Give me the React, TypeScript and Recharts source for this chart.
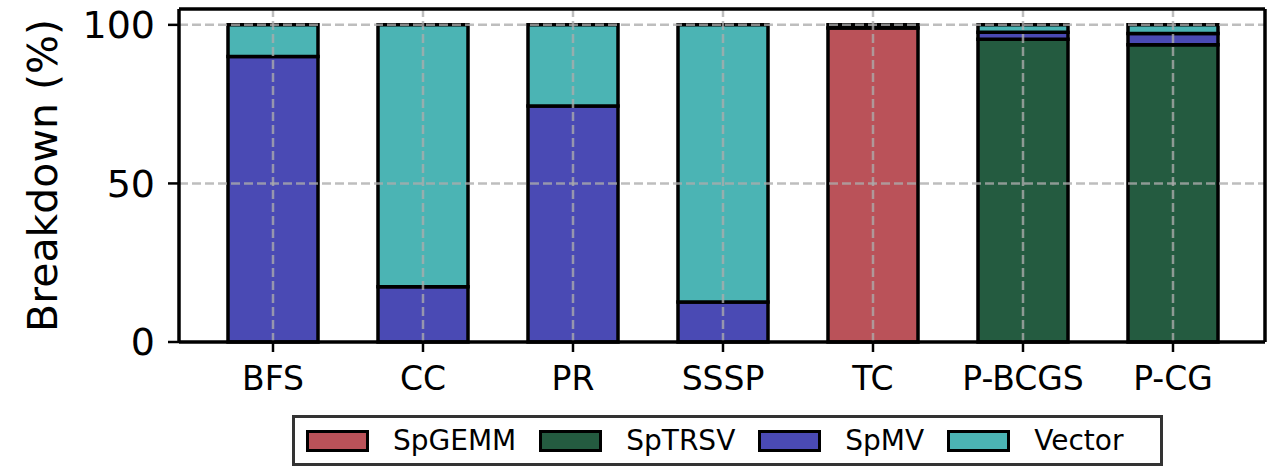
import * as React from "react";
import {
  BarChart,
  Bar,
  XAxis,
  YAxis,
  ReferenceLine,
} from "recharts";

const categories = ["BFS", "CC", "PR", "SSSP", "TC", "P-BCGS", "P-CG"];
const spgemm = [0, 0, 0, 0, 99, 0, 0];
const sptrsv = [0, 0, 0, 0, 0, 95.5, 93.7];
const spmv = [90, 17.4, 74.4, 12.6, 0, 2.2, 3.6];
const vector = [10, 82.6, 25.6, 87.4, 1, 2.3, 2.7];
const yTicks = [0, 50, 100];

const seriesNames = ["SpGEMM", "SpTRSV", "SpMV", "Vector"];
const seriesColors = ["#BA5259", "#245B40", "#4A4AB4", "#4BB4B4"];

const data = categories.map((name, i) => ({
  name,
  SpGEMM: spgemm[i],
  SpTRSV: sptrsv[i],
  SpMV: spmv[i],
  Vector: vector[i],
}));

const FONT = "'DejaVu Sans', sans-serif";
const gridLine = {
  stroke: "#acacac",
  strokeOpacity: 0.78,
  strokeDasharray: "9 4",
  strokeWidth: 2.5,
};

function Legend() {
  return (
    <div
      style={{
        position: "absolute",
        left: 292,
        top: 415,
        width: 871,
        height: 51,
        boxSizing: "border-box",
        border: "3px solid #333",
        background: "#fff",
        display: "flex",
        alignItems: "center",
        paddingLeft: 11,
        fontFamily: FONT,
        fontSize: 28,
        color: "#000",
      }}
    >
      {seriesNames.map((name, i) => (
        <div key={name} style={{ display: "flex", alignItems: "center", marginRight: 23 }}>
          <div
            style={{
              width: 63,
              height: 22,
              boxSizing: "border-box",
              border: "3px solid #000",
              background: seriesColors[i],
              marginRight: 24,
            }}
          />
          <span style={{ lineHeight: 1 }}>{name}</span>
        </div>
      ))}
    </div>
  );
}

export default function App() {
  return (
    <div style={{ position: "absolute", left: 0, top: 0, width: 1274, height: 469, background: "#fff" }}>
      <BarChart
        width={1274}
        height={469}
        data={data}
        margin={{ top: 8, right: 8, left: 0, bottom: 0 }}
        barCategoryGap={0}
      >
        <XAxis
          dataKey="name"
          height={127}
          padding={{ left: 19, right: 17 }}
          axisLine={{ stroke: "#000", strokeWidth: 3.5 }}
          tickLine={{ stroke: "#000", strokeWidth: 2.5 }}
          tickSize={10}
          tickMargin={15}
          tick={{ fill: "#000", fontSize: 33, fontFamily: FONT }}
          interval={0}
        />
        <XAxis
          xAxisId="top"
          dataKey="name"
          orientation="top"
          height={1}
          padding={{ left: 19, right: 17 }}
          tick={false}
          tickLine={false}
          axisLine={{ stroke: "#000", strokeWidth: 3.5 }}
        />
        <YAxis
          width={179}
          domain={[0, 105]}
          ticks={yTicks}
          axisLine={{ stroke: "#000", strokeWidth: 3.5 }}
          tickLine={{ stroke: "#000", strokeWidth: 2.5 }}
          tickSize={11}
          tickMargin={13}
          tick={{ fill: "#000", fontSize: 38, fontFamily: FONT }}
          label={{
            value: "Breakdown (%)",
            angle: -90,
            position: "center",
            dx: -47,
            style: { fill: "#000", fontSize: 41, fontFamily: FONT },
          }}
        />
        <YAxis
          yAxisId="right"
          orientation="right"
          width={1}
          domain={[0, 105]}
          tick={false}
          tickLine={false}
          axisLine={{ stroke: "#000", strokeWidth: 3.5 }}
        />
        {seriesNames.map((name, i) => (
          <Bar
            key={name}
            dataKey={name}
            stackId="a"
            fill={seriesColors[i]}
            stroke="#000"
            strokeWidth={3.5}
            barSize={90}
            isAnimationActive={false}
          />
        ))}
        {yTicks.slice(1).map((v) => (
          <ReferenceLine key={"y" + v} y={v} {...gridLine} zIndex={350} />
        ))}
        {categories.map((c) => (
          <ReferenceLine key={"x" + c} x={c} {...gridLine} zIndex={350} />
        ))}
      </BarChart>
      <Legend />
    </div>
  );
}
